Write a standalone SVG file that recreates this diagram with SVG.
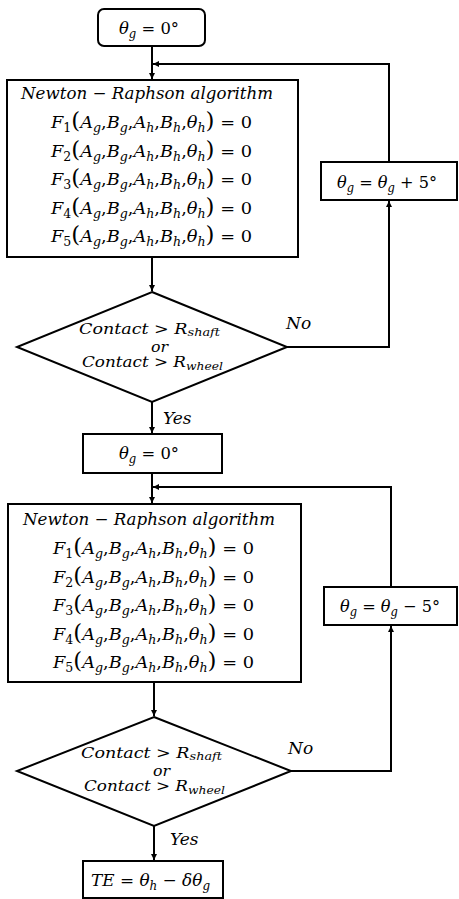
<svg xmlns="http://www.w3.org/2000/svg" width="459" height="899" viewBox="0 0 459 899">
<defs>
<marker id="ah" viewBox="0 0 10 10" refX="10" refY="5" markerWidth="6" markerHeight="6" orient="auto" markerUnits="userSpaceOnUse"><path d="M0,0 L10,5 L0,10 z" fill="#000"/></marker>
</defs>
<style>
.box{fill:#fff;stroke:#000;stroke-width:2}
.c{fill:none;stroke:#000;stroke-width:2}
.t{font-family:"DejaVu Serif","Liberation Serif",serif;font-size:17px;fill:#000}
.d{font-size:15px}
.o{font-size:14px}
.i{font-style:italic}
.s{font-size:12px;font-style:italic}
.sd{font-size:11px;font-style:italic}
.sn{font-size:12px;font-style:normal}
.p{font-size:22px}
</style>
<rect width="459" height="899" fill="#fff"/>
<g id="connectors">
<path class="c" d="M152,46 V79" marker-end="url(#ah)"/>
<path class="c" d="M389,162 V64 H153" marker-end="url(#ah)"/>
<path class="c" d="M152,257 V291" marker-end="url(#ah)"/>
<path class="c" d="M287,347 H389 V201" marker-end="url(#ah)"/>
<path class="c" d="M152,402 V433" marker-end="url(#ah)"/>
<path class="c" d="M152,473 V503" marker-end="url(#ah)"/>
<path class="c" d="M391,587 V487 H153" marker-end="url(#ah)"/>
<path class="c" d="M154,682 V716" marker-end="url(#ah)"/>
<path class="c" d="M291,771 H391 V626" marker-end="url(#ah)"/>
<path class="c" d="M154,826 V860" marker-end="url(#ah)"/>
<text class="t i" x="286" y="329">No</text>
<text class="t i" x="163" y="424">Yes</text>
<text class="t i" x="288" y="754">No</text>
<text class="t i" x="170" y="845">Yes</text>
</g>
<g id="start">
<rect class="box" x="98" y="9" width="107" height="37" rx="6"/>
<text class="t" x="119" y="34" textLength="60" lengthAdjust="spacingAndGlyphs"><tspan class="i">θ</tspan><tspan class="s" dy="4">g</tspan><tspan dy="-4"> = 0°</tspan></text>
</g>
<g id="nr1">
<rect class="box" x="7" y="80" width="291" height="177"/>
<text class="t i" x="21" y="99" textLength="252" lengthAdjust="spacingAndGlyphs">Newton − Raphson algorithm</text>
<text class="t" x="51" y="128" textLength="201" lengthAdjust="spacingAndGlyphs"><tspan class="i">F</tspan><tspan class="sn" dy="4">1</tspan><tspan class="p" dy="-4">(</tspan><tspan class="i">A</tspan><tspan class="s" dy="4">g</tspan><tspan dy="-4">,</tspan><tspan class="i">B</tspan><tspan class="s" dy="4">g</tspan><tspan dy="-4">,</tspan><tspan class="i">A</tspan><tspan class="s" dy="4">h</tspan><tspan dy="-4">,</tspan><tspan class="i">B</tspan><tspan class="s" dy="4">h</tspan><tspan dy="-4">,</tspan><tspan class="i">θ</tspan><tspan class="s" dy="4">h</tspan><tspan class="p" dy="-4">)</tspan><tspan> = 0</tspan></text>
<text class="t" x="51" y="157" textLength="201" lengthAdjust="spacingAndGlyphs"><tspan class="i">F</tspan><tspan class="sn" dy="4">2</tspan><tspan class="p" dy="-4">(</tspan><tspan class="i">A</tspan><tspan class="s" dy="4">g</tspan><tspan dy="-4">,</tspan><tspan class="i">B</tspan><tspan class="s" dy="4">g</tspan><tspan dy="-4">,</tspan><tspan class="i">A</tspan><tspan class="s" dy="4">h</tspan><tspan dy="-4">,</tspan><tspan class="i">B</tspan><tspan class="s" dy="4">h</tspan><tspan dy="-4">,</tspan><tspan class="i">θ</tspan><tspan class="s" dy="4">h</tspan><tspan class="p" dy="-4">)</tspan><tspan> = 0</tspan></text>
<text class="t" x="51" y="185" textLength="201" lengthAdjust="spacingAndGlyphs"><tspan class="i">F</tspan><tspan class="sn" dy="4">3</tspan><tspan class="p" dy="-4">(</tspan><tspan class="i">A</tspan><tspan class="s" dy="4">g</tspan><tspan dy="-4">,</tspan><tspan class="i">B</tspan><tspan class="s" dy="4">g</tspan><tspan dy="-4">,</tspan><tspan class="i">A</tspan><tspan class="s" dy="4">h</tspan><tspan dy="-4">,</tspan><tspan class="i">B</tspan><tspan class="s" dy="4">h</tspan><tspan dy="-4">,</tspan><tspan class="i">θ</tspan><tspan class="s" dy="4">h</tspan><tspan class="p" dy="-4">)</tspan><tspan> = 0</tspan></text>
<text class="t" x="51" y="214" textLength="201" lengthAdjust="spacingAndGlyphs"><tspan class="i">F</tspan><tspan class="sn" dy="4">4</tspan><tspan class="p" dy="-4">(</tspan><tspan class="i">A</tspan><tspan class="s" dy="4">g</tspan><tspan dy="-4">,</tspan><tspan class="i">B</tspan><tspan class="s" dy="4">g</tspan><tspan dy="-4">,</tspan><tspan class="i">A</tspan><tspan class="s" dy="4">h</tspan><tspan dy="-4">,</tspan><tspan class="i">B</tspan><tspan class="s" dy="4">h</tspan><tspan dy="-4">,</tspan><tspan class="i">θ</tspan><tspan class="s" dy="4">h</tspan><tspan class="p" dy="-4">)</tspan><tspan> = 0</tspan></text>
<text class="t" x="51" y="242" textLength="201" lengthAdjust="spacingAndGlyphs"><tspan class="i">F</tspan><tspan class="sn" dy="4">5</tspan><tspan class="p" dy="-4">(</tspan><tspan class="i">A</tspan><tspan class="s" dy="4">g</tspan><tspan dy="-4">,</tspan><tspan class="i">B</tspan><tspan class="s" dy="4">g</tspan><tspan dy="-4">,</tspan><tspan class="i">A</tspan><tspan class="s" dy="4">h</tspan><tspan dy="-4">,</tspan><tspan class="i">B</tspan><tspan class="s" dy="4">h</tspan><tspan dy="-4">,</tspan><tspan class="i">θ</tspan><tspan class="s" dy="4">h</tspan><tspan class="p" dy="-4">)</tspan><tspan> = 0</tspan></text>
</g>
<g id="inc">
<rect class="box" x="321" y="162" width="136" height="38"/>
<text class="t" x="337" y="188" textLength="100" lengthAdjust="spacingAndGlyphs"><tspan class="i">θ</tspan><tspan class="s" dy="4">g</tspan><tspan dy="-4"> = </tspan><tspan class="i">θ</tspan><tspan class="s" dy="4">g</tspan><tspan dy="-4"> + 5°</tspan></text>
</g>
<g id="dec1">
<polygon class="box" points="152,292 287,347 152,402 17,347"/>
<text class="t d" x="79" y="334" textLength="141" lengthAdjust="spacingAndGlyphs"><tspan class="i">Contact</tspan><tspan> &gt; </tspan><tspan class="i">R</tspan><tspan class="sd" dy="2">shaft</tspan></text>
<text class="t o i" x="151" y="352" textLength="17" lengthAdjust="spacingAndGlyphs">or</text>
<text class="t d" x="82" y="367" textLength="141" lengthAdjust="spacingAndGlyphs"><tspan class="i">Contact</tspan><tspan> &gt; </tspan><tspan class="i">R</tspan><tspan class="sd" dy="3">wheel</tspan></text>
</g>
<g id="reset">
<rect class="box" x="83" y="434" width="139" height="39"/>
<text class="t" x="119" y="459" textLength="60" lengthAdjust="spacingAndGlyphs"><tspan class="i">θ</tspan><tspan class="s" dy="4">g</tspan><tspan dy="-4"> = 0°</tspan></text>
</g>
<g id="nr2">
<rect class="box" x="8" y="504" width="293" height="178"/>
<text class="t i" x="23" y="525" textLength="252" lengthAdjust="spacingAndGlyphs">Newton − Raphson algorithm</text>
<text class="t" x="53" y="554" textLength="201" lengthAdjust="spacingAndGlyphs"><tspan class="i">F</tspan><tspan class="sn" dy="4">1</tspan><tspan class="p" dy="-4">(</tspan><tspan class="i">A</tspan><tspan class="s" dy="4">g</tspan><tspan dy="-4">,</tspan><tspan class="i">B</tspan><tspan class="s" dy="4">g</tspan><tspan dy="-4">,</tspan><tspan class="i">A</tspan><tspan class="s" dy="4">h</tspan><tspan dy="-4">,</tspan><tspan class="i">B</tspan><tspan class="s" dy="4">h</tspan><tspan dy="-4">,</tspan><tspan class="i">θ</tspan><tspan class="s" dy="4">h</tspan><tspan class="p" dy="-4">)</tspan><tspan> = 0</tspan></text>
<text class="t" x="53" y="583" textLength="201" lengthAdjust="spacingAndGlyphs"><tspan class="i">F</tspan><tspan class="sn" dy="4">2</tspan><tspan class="p" dy="-4">(</tspan><tspan class="i">A</tspan><tspan class="s" dy="4">g</tspan><tspan dy="-4">,</tspan><tspan class="i">B</tspan><tspan class="s" dy="4">g</tspan><tspan dy="-4">,</tspan><tspan class="i">A</tspan><tspan class="s" dy="4">h</tspan><tspan dy="-4">,</tspan><tspan class="i">B</tspan><tspan class="s" dy="4">h</tspan><tspan dy="-4">,</tspan><tspan class="i">θ</tspan><tspan class="s" dy="4">h</tspan><tspan class="p" dy="-4">)</tspan><tspan> = 0</tspan></text>
<text class="t" x="53" y="611" textLength="201" lengthAdjust="spacingAndGlyphs"><tspan class="i">F</tspan><tspan class="sn" dy="4">3</tspan><tspan class="p" dy="-4">(</tspan><tspan class="i">A</tspan><tspan class="s" dy="4">g</tspan><tspan dy="-4">,</tspan><tspan class="i">B</tspan><tspan class="s" dy="4">g</tspan><tspan dy="-4">,</tspan><tspan class="i">A</tspan><tspan class="s" dy="4">h</tspan><tspan dy="-4">,</tspan><tspan class="i">B</tspan><tspan class="s" dy="4">h</tspan><tspan dy="-4">,</tspan><tspan class="i">θ</tspan><tspan class="s" dy="4">h</tspan><tspan class="p" dy="-4">)</tspan><tspan> = 0</tspan></text>
<text class="t" x="53" y="640" textLength="201" lengthAdjust="spacingAndGlyphs"><tspan class="i">F</tspan><tspan class="sn" dy="4">4</tspan><tspan class="p" dy="-4">(</tspan><tspan class="i">A</tspan><tspan class="s" dy="4">g</tspan><tspan dy="-4">,</tspan><tspan class="i">B</tspan><tspan class="s" dy="4">g</tspan><tspan dy="-4">,</tspan><tspan class="i">A</tspan><tspan class="s" dy="4">h</tspan><tspan dy="-4">,</tspan><tspan class="i">B</tspan><tspan class="s" dy="4">h</tspan><tspan dy="-4">,</tspan><tspan class="i">θ</tspan><tspan class="s" dy="4">h</tspan><tspan class="p" dy="-4">)</tspan><tspan> = 0</tspan></text>
<text class="t" x="53" y="668" textLength="201" lengthAdjust="spacingAndGlyphs"><tspan class="i">F</tspan><tspan class="sn" dy="4">5</tspan><tspan class="p" dy="-4">(</tspan><tspan class="i">A</tspan><tspan class="s" dy="4">g</tspan><tspan dy="-4">,</tspan><tspan class="i">B</tspan><tspan class="s" dy="4">g</tspan><tspan dy="-4">,</tspan><tspan class="i">A</tspan><tspan class="s" dy="4">h</tspan><tspan dy="-4">,</tspan><tspan class="i">B</tspan><tspan class="s" dy="4">h</tspan><tspan dy="-4">,</tspan><tspan class="i">θ</tspan><tspan class="s" dy="4">h</tspan><tspan class="p" dy="-4">)</tspan><tspan> = 0</tspan></text>
</g>
<g id="dec">
<rect class="box" x="324" y="587" width="133" height="38"/>
<text class="t" x="340" y="612" textLength="100" lengthAdjust="spacingAndGlyphs"><tspan class="i">θ</tspan><tspan class="s" dy="4">g</tspan><tspan dy="-4"> = </tspan><tspan class="i">θ</tspan><tspan class="s" dy="4">g</tspan><tspan dy="-4"> − 5°</tspan></text>
</g>
<g id="dec2">
<polygon class="box" points="154,717 291,771 154,826 17,771"/>
<text class="t d" x="81" y="758" textLength="141" lengthAdjust="spacingAndGlyphs"><tspan class="i">Contact</tspan><tspan> &gt; </tspan><tspan class="i">R</tspan><tspan class="sd" dy="2">shaft</tspan></text>
<text class="t o i" x="153" y="776" textLength="17" lengthAdjust="spacingAndGlyphs">or</text>
<text class="t d" x="84" y="791" textLength="141" lengthAdjust="spacingAndGlyphs"><tspan class="i">Contact</tspan><tspan> &gt; </tspan><tspan class="i">R</tspan><tspan class="sd" dy="3">wheel</tspan></text>
</g>
<g id="te">
<rect class="box" x="83" y="861" width="140" height="37"/>
<text class="t" x="91" y="886" textLength="119" lengthAdjust="spacingAndGlyphs"><tspan class="i">TE</tspan><tspan> = </tspan><tspan class="i">θ</tspan><tspan class="s" dy="4">h</tspan><tspan dy="-4"> − </tspan><tspan class="i">δθ</tspan><tspan class="s" dy="4">g</tspan></text>
</g>
</svg>
